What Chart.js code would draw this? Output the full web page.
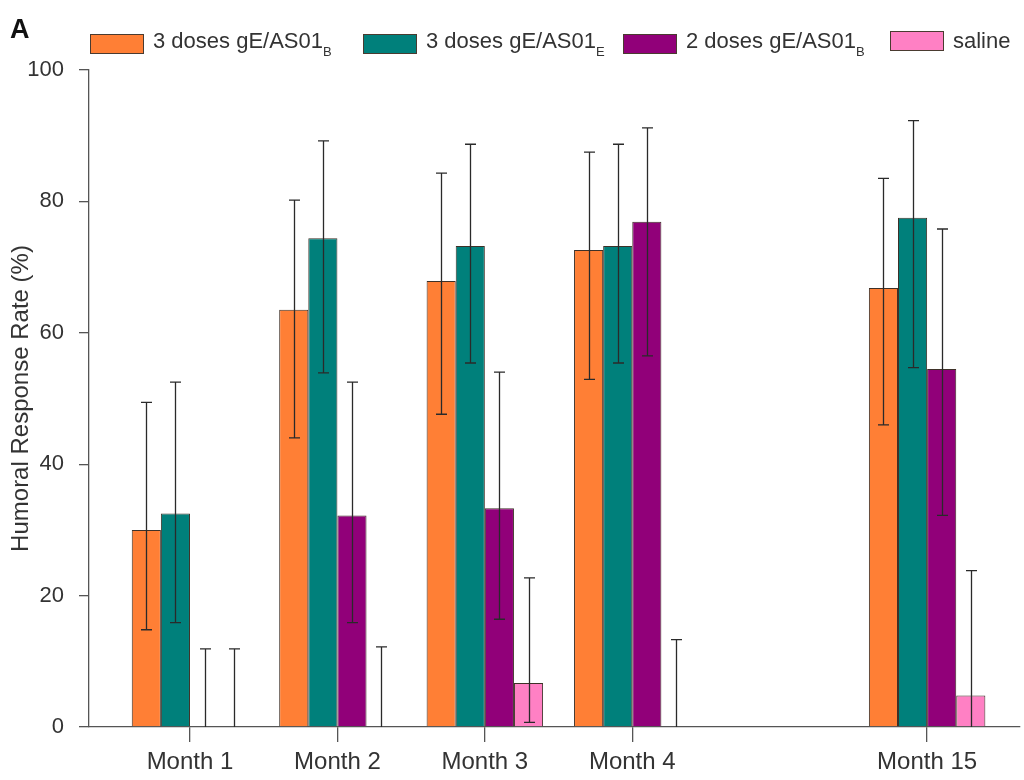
<!DOCTYPE html>
<html>
<head>
<meta charset="utf-8">
<script src="https://cdn.jsdelivr.net/npm/chart.js@4"></script>
<style>
  body { margin: 0; background: #fff; font-family: "Liberation Sans", Arial, sans-serif; }
  #wrap { position: relative; width: 1024px; height: 780px; }
  #panel { position: absolute; left: 10px; top: 14px; font-size: 27px; font-weight: bold; color: #111; }
  .leg { position: absolute; top: 28px; display: flex; align-items: center; font-size: 22px; color: #333; white-space: nowrap; }
  .leg .box { width: 52px; height: 18px; border: 1px solid #4a3b30; margin-right: 9px; }
  .leg sub { font-size: 13px; vertical-align: -8px; }
</style>
</head>
<body>
<div id="wrap">
  <canvas id="chart" width="1024" height="780"></canvas>
  <div id="panel">A</div>
  <div id="legend"></div>
</div>
<script>
// categories (an empty slot sits between Month 4 and Month 15 on the axis)
const months = ['Month 1', 'Month 2', 'Month 3', 'Month 4', 'Month 15'];
const slots = [1, 2, 3, 4, 6];

const seriesNames = ['3 doses gE/AS01', '3 doses gE/AS01', '2 doses gE/AS01', 'saline'];
const seriesSubs = ['B', 'E', 'B', ''];
const colors = ['#FF7F35', '#00807B', '#910079', '#FF80C4'];

// response rate (%)
const dose3B = [30.0, 63.5, 67.9, 72.6, 66.8];
const dose3E = [32.5, 74.4, 73.2, 73.2, 77.5];
const dose2B = [0, 32.2, 33.3, 76.9, 54.5];
const saline = [0, 0, 6.7, 0, 4.8];

// 95% CI
const dose3BLo = [14.8, 44.0, 47.6, 52.9, 46.0];
const dose3BHi = [49.4, 80.2, 84.3, 87.5, 83.5];
const dose3ELo = [15.9, 53.9, 55.4, 55.4, 54.7];
const dose3EHi = [52.5, 89.2, 88.7, 88.7, 92.3];
const dose2BLo = [0, 15.9, 16.4, 56.5, 32.2];
const dose2BHi = [11.9, 52.5, 54.0, 91.2, 75.8];
const salineLo = [0, 0, 0.7, 0, 0];
const salineHi = [11.9, 12.2, 22.7, 13.3, 23.8];

const yTicks = [0, 20, 40, 60, 80, 100];

const values = [dose3B, dose3E, dose2B, saline];
const lows = [dose3BLo, dose3ELo, dose2BLo, salineLo];
const highs = [dose3BHi, dose3EHi, dose2BHi, salineHi];

const datasets = values.map((vals, i) => ({
  label: seriesNames[i] + seriesSubs[i],
  data: slots.map((x, j) => ({ x: x, y: vals[j] })),
  backgroundColor: colors[i],
  borderColor: '#3e3128',
  borderWidth: 1,
  categoryPercentage: 0.79,
  barPercentage: 1.0
}));

const errorBars = {
  id: 'errorBars',
  afterDatasetsDraw(chart) {
    const ctx = chart.ctx;
    const y = chart.scales.y;
    ctx.save();
    ctx.strokeStyle = '#2a2a2a';
    ctx.lineWidth = 1.3;
    chart.data.datasets.forEach((ds, i) => {
      const meta = chart.getDatasetMeta(i);
      meta.data.forEach((bar, j) => {
        const x = Math.round(bar.x) + 0.5;
        const top = y.getPixelForValue(highs[i][j]);
        const bot = y.getPixelForValue(lows[i][j]);
        ctx.beginPath();
        ctx.moveTo(x, top);
        ctx.lineTo(x, bot);
        ctx.moveTo(x - 5.5, top);
        ctx.lineTo(x + 5.5, top);
        if (lows[i][j] > 0) {
          ctx.moveTo(x - 5.5, bot);
          ctx.lineTo(x + 5.5, bot);
        }
        ctx.stroke();
      });
    });
    ctx.restore();
  }
};

new Chart(document.getElementById('chart').getContext('2d'), {
  type: 'bar',
  data: { datasets: datasets },
  options: {
    responsive: false,
    animation: false,
    devicePixelRatio: 1,
    layout: { padding: { top: 70, right: 4, left: 0, bottom: 0 } },
    plugins: { legend: { display: false }, tooltip: { enabled: false } },
    scales: {
      x: {
        type: 'linear',
        min: 0.315,
        max: 6.63,
        offset: false,
        afterBuildTicks: (scale) => { scale.ticks = slots.map(v => ({ value: v })); },
        afterFit: (scale) => { scale.height = 53; },
        grid: { display: true, drawOnChartArea: false, offset: false, tickLength: 15, color: '#555', lineWidth: 1.3 },
        border: { display: true, color: '#555', width: 1.3 },
        ticks: {
          autoSkip: false,
          maxRotation: 0,
          padding: 6,
          color: '#333',
          font: { family: 'Liberation Sans', size: 24 },
          callback: (v) => months[slots.indexOf(v)]
        }
      },
      y: {
        min: 0,
        max: 100,
        afterBuildTicks: (scale) => { scale.ticks = yTicks.map(v => ({ value: v })); },
        afterFit: (scale) => { scale.width = 89; },
        grid: { display: true, drawOnChartArea: false, tickLength: 10, color: '#555', lineWidth: 1.3 },
        border: { display: true, color: '#555', width: 1.3 },
        ticks: {
          padding: 15,
          color: '#333',
          font: { family: 'Liberation Sans', size: 22 }
        },
        title: {
          display: true,
          text: 'Humoral Response Rate (%)',
          color: '#333',
          padding: { top: 7, bottom: 0 },
          font: { family: 'Liberation Sans', size: 24 }
        }
      }
    }
  },
  plugins: [errorBars]
});

// legend with subscripts, built from the series arrays
const legendLeft = [90, 363, 623, 890];
const legend = document.getElementById('legend');
seriesNames.forEach((name, i) => {
  const item = document.createElement('div');
  item.className = 'leg';
  item.style.left = legendLeft[i] + 'px';
  const box = document.createElement('span');
  box.className = 'box';
  box.style.background = colors[i];
  item.appendChild(box);
  const txt = document.createElement('span');
  txt.textContent = name;
  if (seriesSubs[i]) {
    const sub = document.createElement('sub');
    sub.textContent = seriesSubs[i];
    txt.appendChild(sub);
  }
  item.appendChild(txt);
  legend.appendChild(item);
});
</script>
</body>
</html>
